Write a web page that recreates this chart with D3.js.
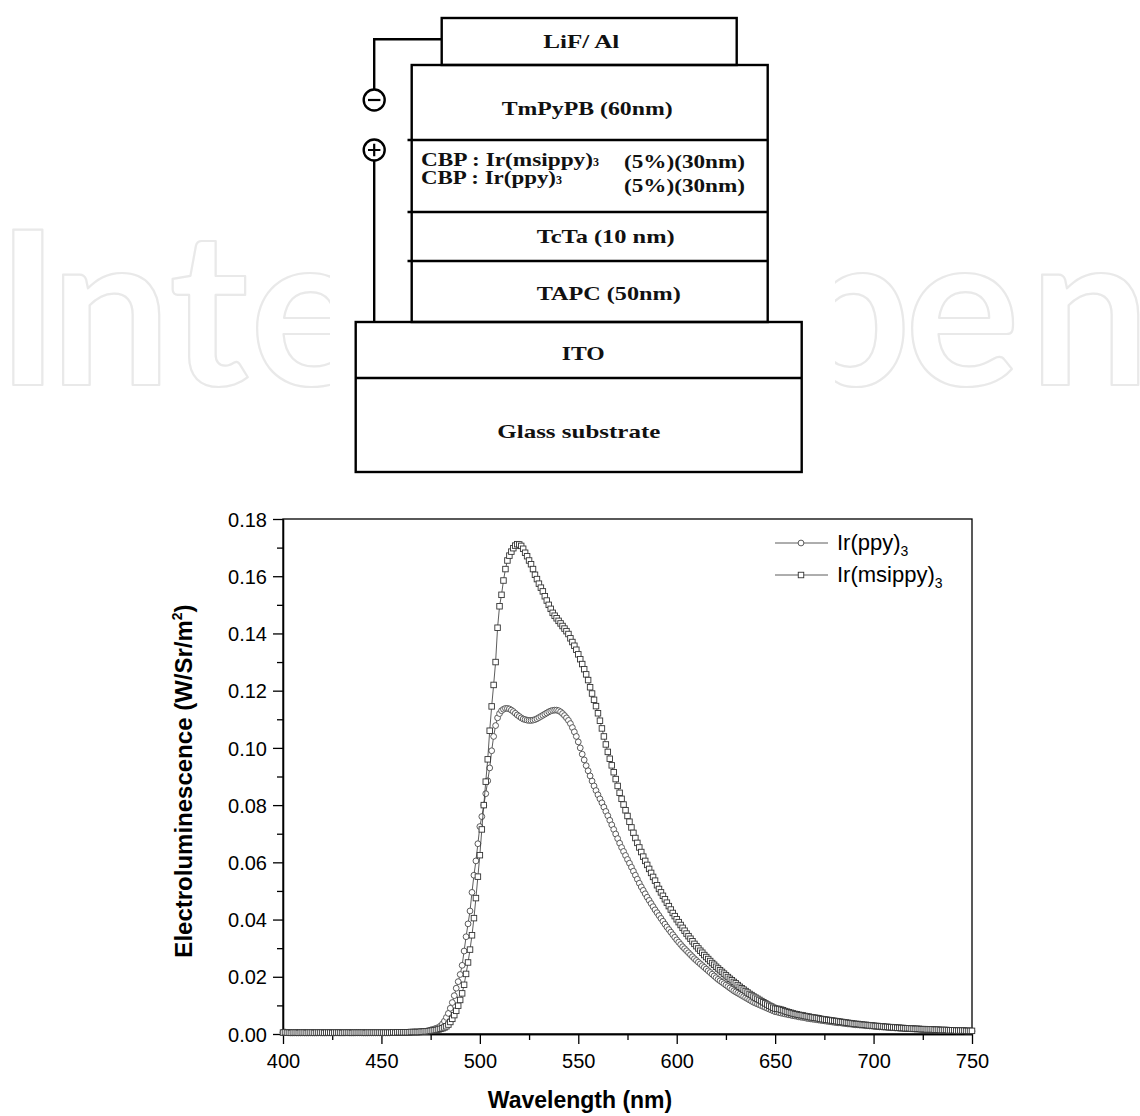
<!DOCTYPE html>
<html><head><meta charset="utf-8">
<script src="https://cdn.jsdelivr.net/npm/d3@7"></script>
<style>body{margin:0;background:#fff}svg{display:block}</style>
</head><body>
<svg id="c" width="1140" height="1116"></svg>
<script>
// ---------------- DATA ----------------
const wavelengths = d3.range(400, 751); // nm, 1 nm step
const irPpy3 = [
0.0006,0.0007,0.0006,0.0005,0.0004,0.0004,0.0004,0.0004,0.0004,0.0004,
0.0004,0.0004,0.0004,0.0004,0.0004,0.0004,0.0004,0.0004,0.0004,0.0004,
0.0004,0.0004,0.0004,0.0004,0.0004,0.0004,0.0004,0.0004,0.0004,0.0004,
0.0004,0.0004,0.0004,0.0004,0.0004,0.0004,0.0004,0.0004,0.0004,0.0004,
0.0004,0.0004,0.0004,0.0004,0.0004,0.0004,0.0004,0.0004,0.0004,0.0004,
0.0004,0.0004,0.0004,0.0004,0.0004,0.0005,0.0005,0.0005,0.0005,0.0005,
0.0005,0.0005,0.0005,0.0006,0.0006,0.0006,0.0006,0.0007,0.0007,0.0007,
0.0008,0.0008,0.0009,0.0010,0.0012,0.0014,0.0016,0.0018,0.0020,0.0023,
0.0028,0.0035,0.0045,0.0058,0.0072,0.0090,0.0110,0.0134,0.0160,0.0183,
0.0208,0.0240,0.0290,0.0340,0.0385,0.0430,0.0495,0.0555,0.0605,0.0665,
0.0725,0.0760,0.0800,0.0840,0.0885,0.0930,0.0990,0.1040,0.1078,0.1105,
0.1120,0.1130,0.1135,0.1138,0.1138,0.1136,0.1132,0.1127,0.1121,0.1115,
0.1110,0.1105,0.1101,0.1099,0.1097,0.1096,0.1096,0.1097,0.1099,0.1102,
0.1106,0.1110,0.1114,0.1118,0.1122,0.1126,0.1129,0.1131,0.1132,0.1132,
0.1130,0.1126,0.1120,0.1113,0.1105,0.1096,0.1085,0.1071,0.1056,0.1040,
0.1021,0.1000,0.0978,0.0958,0.0938,0.0920,0.0902,0.0884,0.0867,0.0851,
0.0836,0.0822,0.0808,0.0793,0.0778,0.0763,0.0747,0.0731,0.0715,0.0699,
0.0683,0.0667,0.0652,0.0638,0.0624,0.0610,0.0597,0.0583,0.0569,0.0555,
0.0541,0.0527,0.0514,0.0502,0.0490,0.0478,0.0467,0.0456,0.0445,0.0434,
0.0424,0.0414,0.0404,0.0394,0.0384,0.0374,0.0365,0.0356,0.0347,0.0338,
0.0329,0.0321,0.0313,0.0305,0.0298,0.0291,0.0284,0.0277,0.0270,0.0263,
0.0257,0.0251,0.0245,0.0239,0.0233,0.0227,0.0221,0.0215,0.0209,0.0203,
0.0197,0.0191,0.0186,0.0181,0.0176,0.0171,0.0166,0.0161,0.0156,0.0151,
0.0147,0.0143,0.0139,0.0135,0.0131,0.0127,0.0123,0.0119,0.0115,0.0111,
0.0108,0.0105,0.0102,0.0099,0.0096,0.0093,0.0090,0.0087,0.0084,0.0081,
0.0078,0.0077,0.0075,0.0073,0.0072,0.0070,0.0069,0.0067,0.0066,0.0064,
0.0063,0.0062,0.0060,0.0059,0.0058,0.0057,0.0055,0.0054,0.0053,0.0052,
0.0051,0.0050,0.0049,0.0048,0.0047,0.0046,0.0045,0.0044,0.0043,0.0042,
0.0041,0.0040,0.0039,0.0039,0.0038,0.0037,0.0036,0.0035,0.0035,0.0034,
0.0033,0.0032,0.0032,0.0031,0.0031,0.0030,0.0029,0.0029,0.0028,0.0028,
0.0027,0.0026,0.0026,0.0025,0.0025,0.0024,0.0024,0.0023,0.0023,0.0022,
0.0022,0.0021,0.0021,0.0020,0.0020,0.0020,0.0019,0.0019,0.0019,0.0018,
0.0018,0.0017,0.0017,0.0017,0.0016,0.0016,0.0016,0.0015,0.0015,0.0015,
0.0015,0.0014,0.0014,0.0014,0.0013,0.0013,0.0013,0.0013,0.0012,0.0012,
0.0012,0.0012,0.0011,0.0011,0.0011,0.0011,0.0011,0.0010,0.0010,0.0010,
0.0010];
const irMsippy3 = [
0.0005,0.0006,0.0005,0.0005,0.0004,0.0005,0.0005,0.0005,0.0004,0.0005,
0.0005,0.0005,0.0004,0.0005,0.0005,0.0005,0.0004,0.0005,0.0005,0.0005,
0.0005,0.0004,0.0005,0.0005,0.0005,0.0004,0.0005,0.0005,0.0005,0.0005,
0.0004,0.0005,0.0005,0.0005,0.0005,0.0004,0.0005,0.0005,0.0005,0.0005,
0.0005,0.0005,0.0004,0.0005,0.0005,0.0005,0.0005,0.0005,0.0005,0.0005,
0.0005,0.0005,0.0005,0.0005,0.0005,0.0005,0.0006,0.0005,0.0006,0.0006,
0.0006,0.0006,0.0006,0.0006,0.0006,0.0007,0.0007,0.0007,0.0007,0.0007,
0.0008,0.0008,0.0009,0.0009,0.0010,0.0011,0.0012,0.0013,0.0014,0.0016,
0.0018,0.0020,0.0023,0.0027,0.0033,0.0042,0.0053,0.0066,0.0081,0.0099,
0.0119,0.0142,0.0172,0.0210,0.0250,0.0295,0.0345,0.0405,0.0475,0.0550,
0.0625,0.0715,0.0800,0.0882,0.0960,0.1060,0.1145,0.1220,0.1300,0.1420,
0.1495,0.1535,0.1585,0.1625,0.1655,0.1672,0.1686,0.1698,0.1707,0.1712,
0.1711,0.1706,0.1696,0.1682,0.1670,0.1655,0.1642,0.1625,0.1605,0.1590,
0.1574,0.1560,0.1547,0.1530,0.1515,0.1500,0.1486,0.1472,0.1462,0.1453,
0.1444,0.1435,0.1426,0.1417,0.1408,0.1398,0.1383,0.1370,0.1357,0.1343,
0.1327,0.1310,0.1293,0.1275,0.1257,0.1237,0.1212,0.1190,0.1168,0.1146,
0.1121,0.1095,0.1068,0.1040,0.1012,0.0986,0.0962,0.0939,0.0915,0.0891,
0.0867,0.0843,0.0822,0.0802,0.0782,0.0762,0.0742,0.0722,0.0703,0.0685,
0.0668,0.0652,0.0636,0.0620,0.0605,0.0591,0.0577,0.0563,0.0549,0.0536,
0.0520,0.0507,0.0495,0.0483,0.0471,0.0459,0.0447,0.0435,0.0423,0.0412,
0.0401,0.0391,0.0381,0.0371,0.0361,0.0351,0.0342,0.0333,0.0324,0.0315,
0.0307,0.0299,0.0291,0.0284,0.0276,0.0269,0.0262,0.0255,0.0248,0.0242,
0.0235,0.0229,0.0223,0.0217,0.0211,0.0205,0.0199,0.0193,0.0188,0.0182,
0.0177,0.0171,0.0165,0.0160,0.0155,0.0150,0.0145,0.0140,0.0136,0.0131,
0.0127,0.0123,0.0119,0.0115,0.0111,0.0107,0.0103,0.0099,0.0096,0.0092,
0.0089,0.0088,0.0087,0.0085,0.0083,0.0080,0.0078,0.0076,0.0074,0.0072,
0.0070,0.0069,0.0067,0.0066,0.0065,0.0063,0.0062,0.0061,0.0059,0.0058,
0.0057,0.0056,0.0055,0.0053,0.0052,0.0051,0.0050,0.0049,0.0048,0.0047,
0.0046,0.0045,0.0044,0.0043,0.0042,0.0041,0.0040,0.0039,0.0038,0.0037,
0.0036,0.0035,0.0035,0.0034,0.0033,0.0032,0.0032,0.0031,0.0030,0.0030,
0.0029,0.0028,0.0028,0.0027,0.0027,0.0026,0.0025,0.0025,0.0024,0.0024,
0.0023,0.0023,0.0022,0.0022,0.0021,0.0021,0.0020,0.0020,0.0020,0.0019,
0.0019,0.0018,0.0018,0.0018,0.0017,0.0017,0.0017,0.0016,0.0016,0.0016,
0.0016,0.0015,0.0015,0.0015,0.0014,0.0014,0.0014,0.0014,0.0013,0.0013,
0.0013,0.0013,0.0012,0.0012,0.0012,0.0012,0.0012,0.0011,0.0011,0.0011,
0.0011];
const xMajorTicks = [400, 450, 500, 550, 600, 650, 700, 750];
const xMinorTicks = [425, 475, 525, 575, 625, 675, 725];
const yMajorTicks = [0, 0.02, 0.04, 0.06, 0.08, 0.10, 0.12, 0.14, 0.16, 0.18];
const yMinorTicks = [0.01, 0.03, 0.05, 0.07, 0.09, 0.11, 0.13, 0.15, 0.17];
const seriesNames = ["Ir(ppy)", "Ir(msippy)"];
const seriesSub = ["3", "3"];
const xTitle = "Wavelength (nm)";
const yTitle = "Electroluminescence (W/Sr/m";
const watermark = "IntechOpen";
// device stack labels
const cathodeLabel = "LiF/ Al";
const stackLabels = ["TmPyPB (60nm)", "TcTa (10 nm)", "TAPC (50nm)"];
const emlHosts = ["CBP : Ir(msippy)", "CBP : Ir(ppy)"];
const emlDoping = ["(5%)(30nm)", "(5%)(30nm)"];
const substrateLabels = ["ITO", "Glass substrate"];

// ---------------- DRAW ----------------
const svg = d3.select("#c");
svg.append("rect").attr("width",1140).attr("height",1116).attr("fill","#fff");

// watermark
svg.append("text")
  .attr("x", [-4,50,169,250,390,500,600,789,905,1029].join(" "))
  .attr("y", 385)
  .attr("font-family","Lato").attr("font-weight",700).attr("font-size",215)
  .attr("fill","none").attr("stroke","#e9e9e9").attr("stroke-width",2.2)
  .attr("stroke-linejoin","round")
  .text(watermark);
svg.append("rect").attr("x",330).attr("y",0).attr("width",505).attr("height",480).attr("fill","#fff");

// ---- device diagram ----
const dg = svg.append("g").attr("fill","none").attr("stroke","#000").attr("stroke-width",2.4);
dg.append("rect").attr("x",441.7).attr("y",18).attr("width",295).attr("height",47);
dg.append("rect").attr("x",411.7).attr("y",65).attr("width",356).attr("height",257);
[140,212,261].forEach(yy => dg.append("line").attr("x1",407.5).attr("x2",767.7).attr("y1",yy).attr("y2",yy));
dg.append("rect").attr("x",355.7).attr("y",322).attr("width",446).attr("height",150);
dg.append("line").attr("x1",355.7).attr("x2",801.7).attr("y1",378).attr("y2",378);
// wires
dg.append("path").attr("d","M441.7,39.3 H374.2 V89");
dg.append("circle").attr("cx",374.2).attr("cy",100).attr("r",10.5);
dg.append("path").attr("d","M368,100 H380.4").attr("stroke-width",2.2);
dg.append("circle").attr("cx",374.2).attr("cy",150).attr("r",10.5);
dg.append("path").attr("d","M368,150 H380.4 M374.2,143.8 V156.2").attr("stroke-width",2.2);
dg.append("path").attr("d","M374.2,160.5 V322");

const serif = "'Liberation Serif', 'Times New Roman', serif";
function dtext(str, x, y, w, anchor) {
  return svg.append("text").attr("x",x).attr("y",y)
    .attr("text-anchor",anchor||"start")
    .attr("font-family",serif).attr("font-size",19).attr("font-weight",700)
    .attr("fill","#111")
    .attr("textLength",w).attr("lengthAdjust","spacingAndGlyphs")
    .text(str);
}
dtext(cathodeLabel, 543.3, 48, 76);
dtext(stackLabels[0], 501.7, 115, 171);
dtext(stackLabels[1], 536.7, 243.3, 138);
dtext(stackLabels[2], 536.7, 300, 144);
dtext(substrateLabels[0], 561.7, 360, 43);
dtext(substrateLabels[1], 497.3, 438.3, 163);
// EML rows with small subscript 3
[[emlHosts[0],165.7,172],[emlHosts[1],184.3,135]].forEach(([s,yy,w]) => {
  const t = svg.append("text").attr("x",421).attr("y",yy)
    .attr("font-family",serif).attr("font-size",18).attr("font-weight",700).attr("fill","#111");
  t.append("tspan").attr("textLength",w).attr("lengthAdjust","spacingAndGlyphs").text(s);
  t.append("tspan").attr("font-size",12).text("3");
});
dtext(emlDoping[0], 624, 167.7, 121);
dtext(emlDoping[1], 624, 192.3, 121);

// ---- chart ----
const x = d3.scaleLinear().domain([400, 750]).range([283, 972]);
const y = d3.scaleLinear().domain([0, 0.18]).range([1034, 519]);
const sans = "'Liberation Sans', Arial, Helvetica, sans-serif";

// frame
svg.append("rect").attr("x",x(400)).attr("y",y(0.18)).attr("width",x(750)-x(400)).attr("height",y(0)-y(0.18))
  .attr("fill","none").attr("stroke","#000").attr("stroke-width",1.3);

function styleAxis(g){
  g.select(".domain").attr("stroke","#000").attr("stroke-width",1.3);
  g.selectAll(".tick line").attr("stroke","#000").attr("stroke-width",1.3);
  g.selectAll(".tick text").attr("font-family",sans).attr("font-size",20).attr("fill","#000");
}
const gx = svg.append("g").attr("transform",`translate(0,${y(0)})`)
  .call(d3.axisBottom(x).tickValues(xMajorTicks).tickSize(10).tickSizeOuter(0).tickPadding(10).tickFormat(d3.format("d")));
styleAxis(gx);
const gxm = svg.append("g").attr("transform",`translate(0,${y(0)})`)
  .call(d3.axisBottom(x).tickValues(xMinorTicks).tickSize(6).tickSizeOuter(0).tickFormat(""));
styleAxis(gxm);
const gy = svg.append("g").attr("transform",`translate(${x(400)},0)`)
  .call(d3.axisLeft(y).tickValues(yMajorTicks).tickSize(10).tickSizeOuter(0).tickPadding(6).tickFormat(d3.format(".2f")));
styleAxis(gy);
gy.selectAll(".tick text").attr("dy","0.36em");
const gym = svg.append("g").attr("transform",`translate(${x(400)},0)`)
  .call(d3.axisLeft(y).tickValues(yMinorTicks).tickSize(6).tickSizeOuter(0).tickFormat(""));
styleAxis(gym);

// axis titles
svg.append("text").attr("x",580).attr("y",1108).attr("text-anchor","middle")
  .attr("font-family",sans).attr("font-weight",700).attr("font-size",23).text(xTitle);
const yt = svg.append("text").attr("transform","translate(192,781) rotate(-90)").attr("text-anchor","middle")
  .attr("font-family",sans).attr("font-weight",700).attr("font-size",24);
yt.append("tspan").text(yTitle);
yt.append("tspan").attr("font-size",14).attr("dy",-10).text("2");
yt.append("tspan").attr("dy",10).text(")");

// series
const series = [
  {name: seriesNames[0], sub: seriesSub[0], values: irPpy3, shape: "circle", stroke: "#4a4a4a"},
  {name: seriesNames[1], sub: seriesSub[1], values: irMsippy3, shape: "square", stroke: "#333"}
];
const line = d3.line().x(d => x(d[0])).y(d => y(d[1]));
series.forEach(s => {
  const pts = wavelengths.map((w, i) => [w, s.values[i]]);
  svg.append("path").datum(pts).attr("d", line).attr("fill","none").attr("stroke","#333").attr("stroke-width",0.8);
  const g = svg.append("g").attr("fill","#fff").attr("stroke",s.stroke).attr("stroke-width",0.9);
  if (s.shape === "circle") {
    g.selectAll("circle").data(pts).join("circle")
      .attr("cx", d => x(d[0])).attr("cy", d => y(d[1])).attr("r", 2.9);
  } else {
    g.selectAll("rect").data(pts).join("rect")
      .attr("x", d => x(d[0]) - 2.75).attr("y", d => y(d[1]) - 2.75).attr("width",5.5).attr("height",5.5);
  }
});

// legend
const legY = [543, 575];
series.forEach((s, i) => {
  const ly = legY[i];
  svg.append("line").attr("x1",775).attr("x2",828).attr("y1",ly).attr("y2",ly).attr("stroke","#333").attr("stroke-width",0.8);
  if (s.shape === "circle") svg.append("circle").attr("cx",801).attr("cy",ly).attr("r",2.9).attr("fill","#fff").attr("stroke",s.stroke).attr("stroke-width",0.9);
  else svg.append("rect").attr("x",798.25).attr("y",ly-2.75).attr("width",5.5).attr("height",5.5).attr("fill","#fff").attr("stroke",s.stroke).attr("stroke-width",0.9);
  const t = svg.append("text").attr("x",837).attr("y",ly+7).attr("font-family",sans).attr("font-size",22).attr("fill","#000");
  t.append("tspan").text(s.name);
  t.append("tspan").attr("font-size",14).attr("dy",6).text(s.sub);
});
</script>
</body></html>
